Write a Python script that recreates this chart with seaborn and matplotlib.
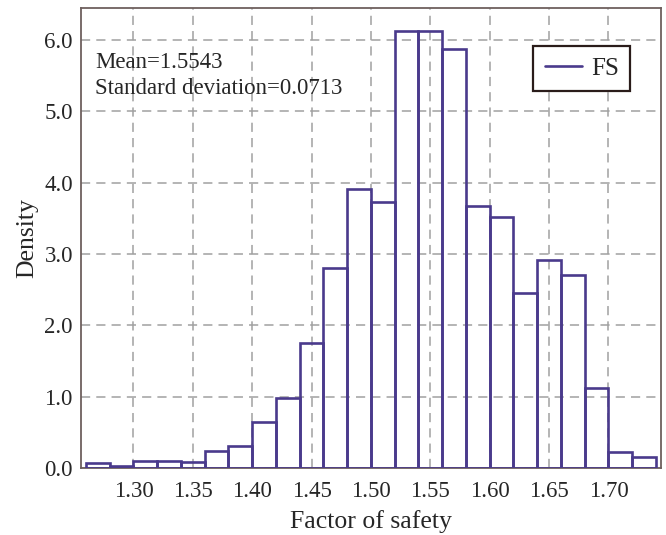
import seaborn as sns
import pandas as pd
import matplotlib.pyplot as plt
from matplotlib.lines import Line2D

# Histogram of the factor of safety (density per 0.02 bin)
bin_edges = [1.26, 1.28, 1.30, 1.32, 1.34, 1.36, 1.38, 1.40, 1.42, 1.44, 1.46, 1.48, 1.50,
             1.52, 1.54, 1.56, 1.58, 1.60, 1.62, 1.64, 1.66, 1.68, 1.70, 1.72, 1.74]
density = [0.07, 0.03, 0.10, 0.10, 0.08, 0.24, 0.31, 0.64, 0.99, 1.75, 2.81, 3.91,
           3.73, 6.13, 6.13, 5.87, 3.68, 3.52, 2.45, 2.92, 2.71, 1.13, 0.23, 0.16]
x_ticks = [1.30, 1.35, 1.40, 1.45, 1.50, 1.55, 1.60, 1.65, 1.70]
y_ticks = [0.0, 1.0, 2.0, 3.0, 4.0, 5.0, 6.0]
stats_text = "Mean=1.5543\nStandard deviation=0.0713"

bin_mid = [(a + b) / 2 for a, b in zip(bin_edges[:-1], bin_edges[1:])]
df = pd.DataFrame({"fs": bin_mid, "density": density})

sns.set_style("white")
plt.rcParams['font.family'] = ['Liberation Serif', 'DejaVu Serif']

purple = "#4a3a8c"
spine_col = "#6e605e"

fig = plt.figure(figsize=(6.66, 5.35), dpi=100)
ax = fig.add_axes([0.122, 0.125, 0.870, 0.860])

sns.histplot(data=df, x="fs", weights="density", bins=bin_edges, stat="count",
             fill=False, color=purple, linewidth=1.9, ax=ax, zorder=3)

ax.set_xlim(1.256, 1.744)
ax.set_ylim(0, 6.45)
ax.set_xticks(x_ticks)
ax.set_xticklabels([f"{t:.2f}" for t in x_ticks])
ax.set_yticks(y_ticks)
ax.set_yticklabels([f"{t:.1f}" for t in y_ticks])
ax.tick_params(direction="in", length=4, color=spine_col, labelsize=16.5)
ax.tick_params(axis="x", pad=9)
ax.tick_params(axis="y", pad=6)
ax.grid(True, linestyle=(0, (6, 4)), color="#a0a0a0", linewidth=1.1, zorder=0)
ax.set_axisbelow(True)

for s in ax.spines.values():
    s.set_color(spine_col)
    s.set_linewidth(1.3)

ax.set_xlabel("Factor of safety", fontsize=18.5, labelpad=6)
ax.set_ylabel("Density", fontsize=18.5, labelpad=4)

ax.text(0.024, 0.905, stats_text, transform=ax.transAxes, fontsize=16.5,
        va="top", ha="left", linespacing=1.35)

leg = ax.legend(handles=[Line2D([0], [0], color=purple, linewidth=1.9)], labels=["FS"],
                loc="upper right", bbox_to_anchor=(0.947, 0.917), borderaxespad=0,
                fontsize=18, fancybox=False, framealpha=1, edgecolor="#2a1c1a",
                handlelength=1.5, handletextpad=0.35, borderpad=0.45)
leg.get_frame().set_linewidth(1.6)

fig.savefig("out.png", dpi=100)
